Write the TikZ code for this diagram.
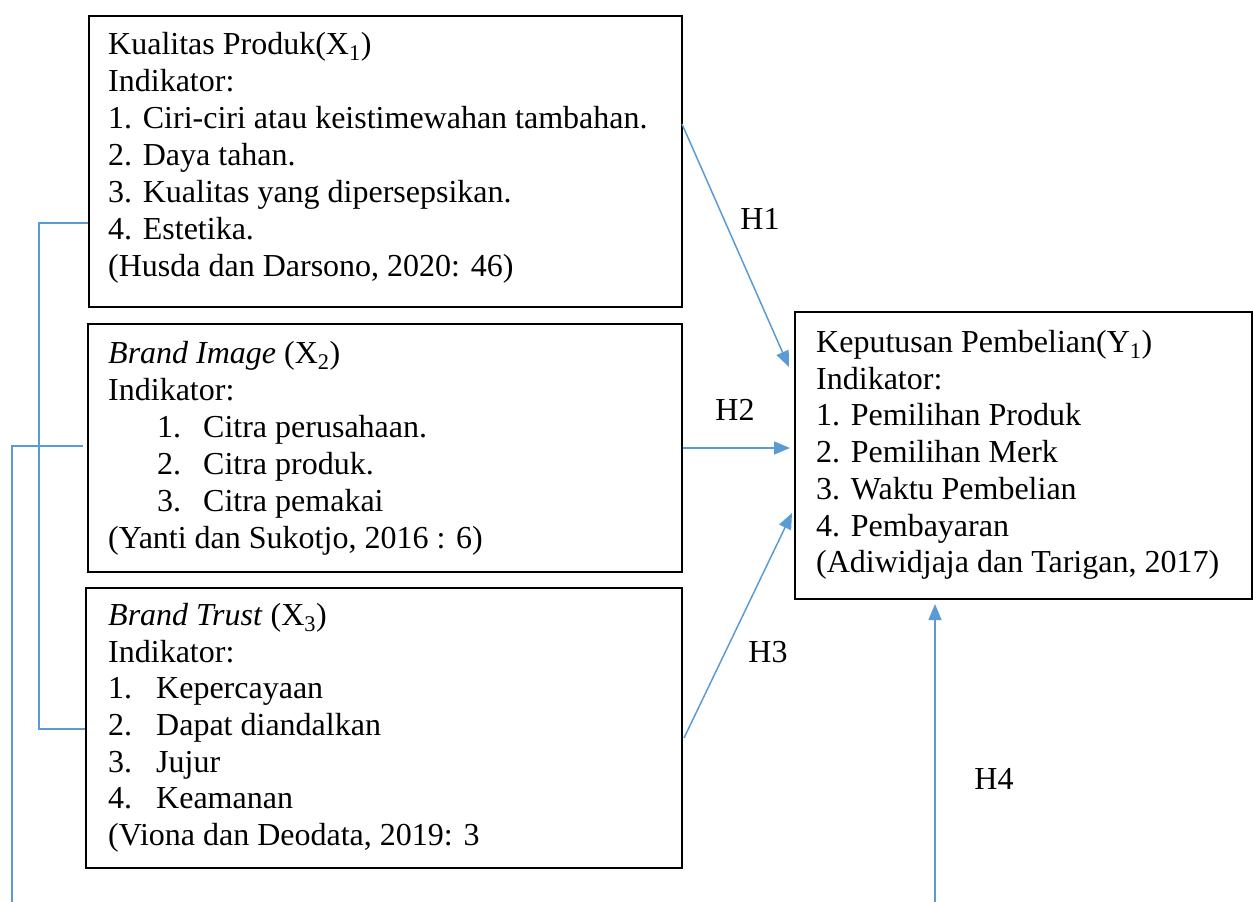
\documentclass[tikz,border=0pt]{standalone}
\usepackage{fontspec}
\setmainfont{Liberation Serif}
\usetikzlibrary{arrows.meta,calc}
\definecolor{lineblue}{HTML}{5B9BD5}
\tikzset{
  box/.style={draw=black, line width=2pt, inner sep=0pt, anchor=north west},
  txt/.style={anchor=base west, inner sep=0pt, font=\fontsize{32}{37}\selectfont},
  hlabel/.style={inner sep=0pt, font=\fontsize{32}{37}\selectfont},
  link/.style={draw=lineblue, line width=1.5pt},
  arr/.style={link, -{Triangle[length=16pt,width=13pt]}},
}
\begin{document}
\begin{tikzpicture}[x=1pt,y=-1pt]
\useasboundingbox (0,0) rectangle (1253,902);
% boxes
\node[box, minimum width=593pt, minimum height=291pt] (kp) at (88,15) {};
\node[box, minimum width=594pt, minimum height=248pt] (bi) at (87,323) {};
\node[box, minimum width=596pt, minimum height=280pt] (bt) at (85,587) {};
\node[box, minimum width=457pt, minimum height=287pt] (kd) at (794,311) {};
% box 1 text
\node[txt] (kp1) at (108,54) {Kualitas Produk(X\textsubscript{1})};
\node[txt] (kp2) at (108,91) {Indikator:};
\node[txt] (kp3) at (108,128) {1. Ciri-ciri atau keistimewahan tambahan.};
\node[txt] (kp4) at (108,165) {2. Daya tahan.};
\node[txt] (kp5) at (108,202) {3. Kualitas yang dipersepsikan.};
\node[txt] (kp6) at (108,239) {4. Estetika.};
\node[txt] (kp7) at (108,276) {(Husda dan Darsono, 2020: 46)};
% box 2 text
\node[txt] (bi1) at (108,363) {\textit{Brand Image} (X\textsubscript{2})};
\node[txt] (bi2) at (108,400) {Indikator:};
\node[txt] (bi3n) at (157,437) {1.};
\node[txt] (bi3) at (203,437) {Citra perusahaan.};
\node[txt] (bi4n) at (157,474) {2.};
\node[txt] (bi4) at (203,474) {Citra produk.};
\node[txt] (bi5n) at (157,511) {3.};
\node[txt] (bi5) at (203,511) {Citra pemakai};
\node[txt] (bi6) at (108,548) {(Yanti dan Sukotjo, 2016 : 6)};
% box 3 text
\node[txt] (bt1) at (108,625) {\textit{Brand Trust} (X\textsubscript{3})};
\node[txt] (bt2) at (108,662) {Indikator:};
\node[txt] (bt3n) at (108,698) {1.};
\node[txt] (bt3) at (156,698) {Kepercayaan};
\node[txt] (bt4n) at (108,735) {2.};
\node[txt] (bt4) at (156,735) {Dapat diandalkan};
\node[txt] (bt5n) at (108,772) {3.};
\node[txt] (bt5) at (156,772) {Jujur};
\node[txt] (bt6n) at (108,808) {4.};
\node[txt] (bt6) at (156,808) {Keamanan};
\node[txt] (bt7) at (108,845) {(Viona dan Deodata, 2019: 3};
% box Y text
\node[txt] (kd1) at (816,352) {Keputusan Pembelian(Y\textsubscript{1})};
\node[txt] (kd2) at (816,389) {Indikator:};
\node[txt] (kd3) at (816,425) {1. Pemilihan Produk};
\node[txt] (kd4) at (816,462) {2. Pemilihan Merk};
\node[txt] (kd5) at (816,499) {3. Waktu Pembelian};
\node[txt] (kd6) at (816,536) {4. Pembayaran};
\node[txt] (kd7) at (816,572) {(Adiwidjaja dan Tarigan, 2017)};
% hypothesis labels
\node[hlabel] (h1) at (760,219) {H1};
\node[hlabel] (h2) at (735,410) {H2};
\node[hlabel] (h3) at (768,652) {H3};
\node[hlabel] (h4) at (994,779) {H4};
% free ends at the bottom edge
\coordinate (bend) at (12,902);
\coordinate (h4s) at (935,902);
% connectors
\draw[link] ($(kp.north west)+(0,208)$) -- ++(-49,0) |- ($(bt.north west)+(0,142)$);
\draw[link] ($(bi.north west)+(-4,123)$) -- ($(bend)+(0,-456)$) -- (bend);
\draw[arr] ($(kp.north east)+(-1,109)$) -- ($(kd.north west)+(-5,56)$);
\draw[arr] ($(bi.north east)+(0,125)$) -- ($(kd.north west)+(-4,137)$);
\draw[arr] ($(bt.north east)+(1,151)$) -- ($(kd.north west)+(-2,202)$);
\draw[arr] (h4s) -- ($(h4s |- kd.south)+(0,4)$);
\end{tikzpicture}
\end{document}
